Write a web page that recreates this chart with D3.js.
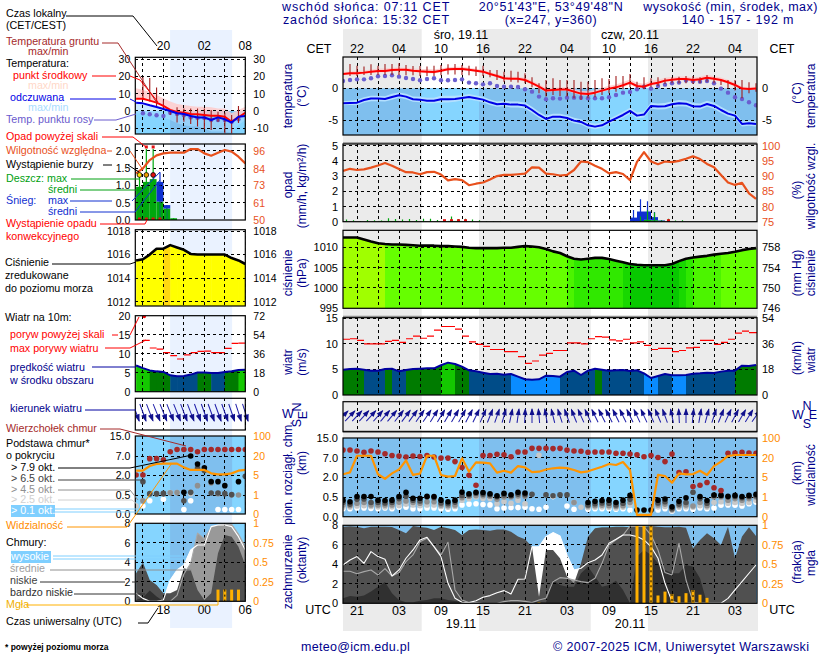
<!DOCTYPE html>
<html>
<head>
<meta charset="utf-8">
<script src="https://d3js.org/d3.v7.min.js"></script>
<style>
  html, body { margin: 0; background: #fff; }
  svg { display: block; }
  text { font-family: "Liberation Sans", Arial, sans-serif; font-size: 10.7px; }
</style>
</head>
<body>
<svg id="chart" width="820" height="660"></svg>
<script>
// ---- long (main) meteogram, one value per hour from 19 UTC
var temp = [2.24,2.34,2.34,2.45,2.6,2.7,2.7,2.86,2.9,2.9,2.75,2.65,2.6,2.55,2.75,2.97,3.02,3.02,2.9,2.75,2.6,2.24,1.93,1.56,1.5,1.5,1.3,.8,.26,-.36,
  -.26,-.2,-.2,-.52,-.83,-.88,-.68,-.36,-.05,.15,.47,.88,.36,.26,.68,.88,1.2,1.35,1.45,1.45,1.3,1.4,1.66,1.5,1.3,.94,.52,-.05,-.1,-.05];
var tempBand = [.3,.3,.35,.35,.35,.4,.4,.35,.35,.3,.35,.35,.4,.4,.35,.3,.35,.35,.3,.3,.3,.3,.3,.3,.3,.3,.35,.4,.4,.4,
  .35,.35,.4,.4,.4,.4,.4,.45,.45,.45,.5,.5,.5,.45,.5,.45,.45,.4,.4,.4,.4,.4,.45,.4,.4,.4,.35,.3,.3,.3];
var feels = [-2.34,-2.29,-2.24,-1.82,-1.61,-1.61,-1.67,-1.35,-1.09,-1.3,-1.72,-1.77,-1.93,-1.93,-1.72,-1.72,-1.67,-1.51,-1.35,-1.56,-1.77,-2.19,-2.5,-2.4,-2.55,-2.55,-2.7,-3.39,-4.17,-4.79,
  -4.43,-4.43,-4.64,-5.05,-5.26,-5.78,-5.99,-5.78,-5.21,-4.69,-4.17,-3.54,-4.27,-4.11,-2.76,-2.86,-2.81,-2.5,-2.34,-2.4,-2.81,-2.86,-2.45,-2.76,-3.39,-3.96,-4.27,-5.57,-5.47,-5.57];
var feelsBand = [.3,.3,.4,.4,.4,.4,.4,.45,.4,.4,.4,.4,.4,.4,.5,.5,.45,.4,.4,.4,.4,.4,.4,.4,.45,.45,.45,.45,.45,.45,
  .4,.4,.4,.4,.4,.4,.4,.4,.4,.4,.45,.45,.45,.45,.45,.45,.45,.45,.45,.45,.45,.45,.45,.45,.45,.45,.45,.4,.4,.4];
var dew = [1.15,1.3,1.4,1.4,1.56,1.88,1.93,2.03,1.82,1.61,1.46,1.25,1.46,1.56,1.25,1.25,1.3,1.4,.89,.78,.62,.78,.36,.26,.26,.2,-.16,-.52,-1.3,-1.72,
  -1.56,-1.61,-1.46,-1.46,-1.46,-1.56,-1.56,-1.56,-1.41,-1.04,-.68,-.57,-.16,.26,-.05,.36,.57,.78,.89,1.2,1.09,1.04,1.15,.78,-.05,-.68,-1.41,-1.67,-2.19,-2.66];
var groundMax = [null,3.8,3.54,3.39,3.75,3.54,3.8,3.8,3.9,3.65,3.49,3.49,3.39,3.54,3.65,3.75,3.8,3.65,3.54,3.39,3.54,2.86,2.86,2.6,2.76,2.6,2.34,1.72,.78,1.3,
  1.56,1.3,1.3,1.3,1.04,1.04,1.3,1.56,1.46,1.93,1.93,2.24,1.04,1.72,1.56,1.72,1.56,1.72,1.82,1.93,1.93,1.72,2.08,1.72,1.3,1.3,1.3,1.3,.94,.78];
var groundMin = [null,1.93,1.93,2.08,2.08,2.08,2.08,2.08,2.08,2.03,2.03,1.93,1.93,1.93,2.03,2.14,2.14,2.08,2.03,1.93,1.93,1.72,1.3,1.04,1.04,.89,.78,.16,-.78,-1.3,
  -1.04,-1.2,-1.3,-1.56,-1.82,-1.56,-1.41,-1.04,-.78,-.52,-.16,.16,0,-.16,.16,.36,.68,.78,.78,.78,.68,.78,1.04,.78,.52,0,-.36,-1.56,-.78,-.52];
var humidity = [91.7,92.4,92,92.2,92.8,93.5,94.3,93.4,92.3,91.3,91.2,90.6,91.3,91.4,90.5,88.6,89,88.7,87,87.5,87.9,88.9,90,90.4,90.4,90.6,90.8,92.9,92.8,90.8,
  90.6,90.2,90.4,92,94.8,94.6,93.4,92.4,90.9,91.3,90.7,88.7,94.7,97.9,94.8,93.9,94.8,94.6,95,95.7,96.5,95.6,94,92.9,90.4,87.9,87.1,87.8,84.3,82.5];
var rainMean = [.01,.01,.01,.01,.02,.05,.05,.05,.03,.01,.01,.02,.01,.01,.02,.05,.05,.03,.01,0,0,0,0,0,0,0,0,0,0,0,
  0,0,0,0,0,0,0,0,0,0,0,.01,.03,.12,.1,.06,.01,0,0,0,0,0,0,0,0,0,0,0,0,0];
var rainMax = [.15,.1,.05,.12,.1,.08,.22,.18,.15,.18,.12,.2,.2,.12,.12,.35,.18,.2,.15,.1,.05,.03,.04,0,0,.03,0,0,0,0,
  0,0,0,0,0,0,0,0,0,0,0,.05,.35,.75,.6,.1,.2,.08,.1,0,0,0,0,0,0,0,0,0,0,0];
var snowMean = [0,0,0,0,0,0,0,0,0,0,0,0,0,0,0,0,0,0,0,0,0,0,0,0,0,0,0,0,0,0,
  0,0,0,0,0,0,0,0,0,0,0,.26,.64,.55,.2,.03,0,0,0,0,0,0,0,0,0,0,0,0,0,0];
var snowMax = [0,0,0,0,0,0,0,0,0,0,0,0,0,0,0,0,0,0,0,0,0,0,0,0,0,0,0,0,0,0,
  0,0,0,0,0,0,0,0,0,0,0,.77,1.47,1.34,.64,.08,0,0,0,0,0,0,0,0,0,0,0,0,0,0];
var convective = [14,15,16,17,46];
var pressure = [1012.4,1012.4,1012.4,1011.9,1011.4,1011,1010.8,1010.7,1010.7,1010.6,1010.5,1010.4,1010.4,1010.4,1010.3,1010.3,1010.2,1010.1,1009.9,1009.8,1009.8,1009.8,1009.8,1009.9,1009.9,1010.1,1010.3,1010.2,1010,1009.6,
  1009,1008.6,1007.8,1007.2,1007,1007.2,1007.4,1007.4,1007.1,1006.7,1006.3,1005.9,1005.7,1005.6,1005.6,1005.6,1005.6,1005.9,1006.6,1007.2,1007.5,1007.7,1007.9,1008.2,1008.4,1008.6,1008.9,1009.3,1009.6,1009.8];
var windSpeed = [4.96,5.09,5.15,4.96,4.76,4.76,5.09,5.15,4.63,4.89,5.09,5.15,5.22,5.22,5.81,6.33,6.07,5.54,4.83,4.63,4.37,4.11,4.17,3.98,4.11,3.59,3.07,3,3.07,3.78,
  3.72,3.59,4.5,4.76,3.91,4.76,5.15,4.96,4.76,4.83,4.89,4.7,4.83,4.24,3.33,3.72,4.11,3.85,3.85,3.91,4.17,4.24,4.37,4.31,4.57,4.76,4.76,5.74,5.67,5.87];
var windBand = [2,2,2,1,1,1,2,1,1,2,2,2,2,2,3,3,2,2,1,1,1,1,1,1,0,0,0,0,0,0,
  0,1,1,1,1,1,2,1,1,1,1,1,1,0,0,1,1,0,0,1,1,1,1,1,1,1,2,2,2,2];
var windGust = [10.9,11,10.7,10,10,10,10.5,10.7,10.3,11,11.5,11.1,11.5,12.7,13.4,13.4,12.9,11.5,10.4,9.9,9.5,8.9,8.9,8.5,8.5,7.5,6.2,6.65,7.8,8.15,
  8.7,8.7,10.2,10.2,10,11,11.4,11.3,10.8,10.6,10.9,10.2,10.4,9.7,8.9,9.1,9.1,8.5,8.7,9.2,9.3,10.7,10.7,9.9,10.3,10.9,12.1,12.5,12.2,12.2];
var windDir = [45,44,43,42,42,41,40,40,38,37,36,35,34,32,31,30,30,29,28,26,24,22,19,16,12,8,3,0,-5,-10,
  -14,-18,-20,-22,-24,-25,-26,-27,-27,-26,-26,-26,-25,-25,-24,-23,-20,-12,-3,0,6,10,15,18,22,25,28,30,32,35];
var cloudTop = [10.1,10.1,9.7,9.2,9.7,9.3,8.6,7.9,7.7,7.3,7.7,7.5,7.9,7.3,6.9,6.9,6,4.5,2.5,1.4,7.9,7.9,8.4,8.2,7.4,9.3,9.3,10.8,10.8,10.8,
  10.7,10.8,10.1,9.7,9.6,9.2,9.3,9.3,9.3,8.8,8.8,8.5,8.2,7.4,7.9,7.1,6,8.5,3.2,3.4,1.3,1.4,1.6,1.2,1,8.8,8.9,9.2,8.9,8.8];
var baseBlack = [.42,.38,.54,.54,.53,.42,.41,.42,.54,.85,.47,.47,.56,.54,.42,.38,.42,.87,.75,.86,.84,.75,.6,.78,.67,.86,.8,null,null,null,
  null,null,null,null,null,.36,.39,.41,.42,.36,.42,.62,.17,.17,.17,.42,.45,.25,.39,.48,null,.54,.41,.65,.64,.55,.62,.54,.62,.7];
var baseDark = [.36,.32,.44,.45,.36,.36,.35,.36,.46,.56,.42,.4,.5,.48,.35,.33,.37,.62,.66,.78,.72,.66,.52,.66,.6,.72,.68,.7,null,.66,
  .6,.66,.66,null,null,.3,.33,.35,.34,.3,.34,.44,null,null,null,.35,.38,.2,.32,.36,.86,.46,.34,.62,.58,.5,.54,.48,.54,.6];
var baseMid = [.3,.28,.34,.36,.3,.3,.3,.3,.37,.4,.36,.34,.38,.38,.3,.28,.3,.48,.56,.62,.6,.56,.44,.5,.5,.58,.56,null,null,null,
  null,null,null,.36,null,.27,.28,.29,.28,.26,.28,.36,null,null,null,.3,.32,.18,.28,.3,.27,.36,.28,.5,.5,.42,.46,.42,.46,.5];
var baseLight = [.24,.24,.27,.28,.26,.25,.25,.25,.28,.32,.3,.28,.3,.3,.26,.24,.26,.42,.46,.5,.46,.46,.33,.38,.34,.42,.33,null,8,null,
  null,null,null,.36,.24,.23,.24,.25,.24,.22,.24,.3,null,null,null,.25,.26,.16,.24,.25,.24,.28,.24,.36,.38,.34,.36,.34,.36,.42];
var baseWhite = [.2,.2,.22,.22,.21,.2,.22,.2,.24,.24,.2,.2,.22,.22,.2,.19,.2,.3,.32,.33,.31,.3,.2,.22,.23,.23,.24,.2,.19,.24,
  .53,null,.27,.19,null,.19,.2,.2,.2,.19,.2,.17,null,null,null,.17,.2,.14,.2,.2,.19,.22,.2,.22,.29,.3,.29,.27,.33,.37];
var visibility = [7.3,8.8,28,28,28,7.3,4.7,8,11,18,6.8,7.8,28,28,6.8,5.5,6,19.5,9.3,16.4,16.2,15.7,8.6,10,8.6,13.6,12.6,9,9.3,11,
  11.9,12.4,12,10.6,8.8,9.6,11.4,13.1,15.2,14.4,16.7,10.6,.09,.09,.09,6.8,6,3.9,8,7.3,7.5,10,6.8,13.6,17,27,31,31,31,31];
var cloudHigh = [3.93,4.44,4.79,4.1,5.3,4.79,4.51,2.8,3.42,4.62,5.47,6.5,6.77,5.81,4.79,2.05,.51,.1,.07,.27,.62,.79,1.09,1.3,.96,2.46,2.5,5.8,5.8,6.84,
  7.25,6.9,4.96,3.42,3.59,4.17,4.44,4.96,6.15,6.56,7,7,6.84,6.5,5.81,4.62,2.05,.17,0,0,0,0,0,0,0,.51,1.37,2.22,3.08,3.93];
var cloudMid = [3.28,3.28,3.04,3.25,3.42,2.91,3.56,2.8,3.15,4.27,4.96,6.32,6.67,5.81,4.96,6.26,1.37,.34,.07,.07,0,0,0,.17,.27,.27,.2,.07,.34,.51,
  2.22,2.63,2.56,2.39,2.22,2.12,2.56,4.1,5.98,6.5,7,7.93,7.93,7.86,7,5.47,3.15,2.91,6.15,2.39,.14,0,0,0,0,0,0,0,0,0];
var cloudLow = [7.86,7.9,7.86,7.69,7.86,7.86,7.86,7.83,7.52,7.18,7.93,7.83,7.76,7.52,7.86,7.69,7.52,7,7.52,7.56,7.52,7.45,7.56,7.56,7.35,6.84,6.56,5.81,.68,5.47,
  5.47,4.62,2.74,2.05,4.1,6.84,7.69,7.8,7.8,7.86,7.86,7.8,7.86,7.86,7.93,7.86,7.8,7.8,7.86,7.76,5.64,6.5,7.18,6.67,5.98,7.86,4.62,6.84,7.8,6.9];
var cloudVeryLow = [.51,.75,.68,.79,1.2,1.71,2.19,1.03,.34,.1,.1,.27,.34,.51,.51,.34,.24,.17,.1,.1,.1,.07,.07,.07,.07,.07,.07,.07,.1,.07,
  2.39,1.88,1.71,1.71,3.08,3.76,2.74,1.71,1.88,2.32,1.37,0,4.79,5.47,4.96,4.1,3.42,3.08,3.08,3.93,3.76,2.56,0,0,0,0,0,0,0,0];
var fog = [0,0,0,0,0,0,0,0,0,0,0,0,0,0,0,0,0,0,0,0,0,0,0,0,0,0,0,0,.01,0,
  0,0,0,0,0,0,0,0,0,0,0,0,1,1,1,.1,.15,.12,.09,.13,.17,.11,.07,0,0,0,0,0,0,0];
var fogDotted = [44,47,50];
var daySpans = [[11.24,19.43],[35.39,43.57]];

// ---- short (left) meteogram, one value per hour from 14 UTC
var tempL = [7.1,7.1,5.96,4.8,2.9,.6,-.6,-1,-1.7,-1.9,-2.3,-2.7,-2.7,-3.3,-6.2,-3.7,-1];
var tempHiL = [13.1,12.1,11.2,9.2,7.3,5.4,4,3.5,2.9,2.5,2.5,2.1,1.5,1.5,-1.3,.6,2.5];
var feelsL = [4.8,4.4,3.3,2.3,1.15,0,-1.3,-1.7,-2.9,-3.8,-3.8,-5.2,-3.7,-4.8,-6.7,-3.3,-2.9];
var feelsLoL = [-1.3,-1.7,-2.3,-3.3,-3.7,-5.2,-7.1,-8.1,-9,-9,-10,-11.9,-11.9,-11.9,-12.5,-8.1,-5.2];
var dewL = [null,-1.3,-1.9,-2.5,-2.9,-1,-1.7,-2.5,-3.7,-4,-4,-5.2,-5.2,-5.2,-6.2,-4.8,null];
var groundMaxL = [null,19.4,19,13.5,6.2,.6,2.1,1.5,1.5,1.5,1.5,.6,-.4,-1,-2.3,2.9,null];
var groundMinL = [null,6.3,5.4,2.9,1.3,-2.3,-6.7,-6.2,-7.5,-9,-10.6,-11,-6.2,-12.8,-12.8,-7,null];
var humidityL = [81,84.3,89.8,92.9,94.2,94.7,94.7,94.7,97.1,97.1,94.2,92.7,94.7,96.5,95.4,92,87.6];
var rainMeanL = [.96,1.1,1.18,.53,.33,.05,0,0,0,0,0,0,0,0,0,0,0];
var rainMaxL = [1.34,2.05,2.05,.53,.33,.05,0,0,0,0,0,0,0,0,0,0,0];
var snowMeanL = [0,0,0,.57,.1,0,0,0,0,0,0,0,0,0,0,0,0];
var snowMaxL = [0,0,0,1.38,.43,0,0,0,0,0,0,0,0,0,0,0,0];
var overScaleL = [1,2];
var stormL = [0,1,2];
var stormColors = ["#ffe000","#f0a000","#e01010"];
var convectiveL = [0,1,2,3];
var pressureL = [1015.5,1015.6,1016,1016.5,1016.5,1016.8,1016.6,1016.4,1016.05,1016,1016,1016,1016,1016,1015.7,1015.5,1015.2];
var windSpeedL = [6.9,6.2,5.6,5.35,5.2,4.3,4.05,4.14,4.5,5.05,5.05,4.95,4.95,5.2,5.4,5.7,5.8];
var windBandL = [3,3,2,2,2,1,1,1,1,2,2,1,1,2,2,3,3];
var windGustL = [null,13.5,11.5,11.2,10.3,9.5,8.6,9.7,10.3,10.6,10.7,10.3,10.3,11.4,12.7,12.8,12.8];
var windDirL = [160,160,159,158,158,158,158,159,159,160,160,160,160,160,161,162,162];
var cloudTopL = [2,2,6.3,6.3,6,8.7,9.6,9.6,9.6,8.7,9.6,9.6,9.6,9.6,9.6,9.6,9.6];
var baseBlackL = [null,null,null,null,null,null,null,.7,7,4.9,3.9,1.5,1.5,1.2,null,1.5,null];
var baseDarkL = [null,1.5,.6,.6,.62,null,null,.35,.7,3.8,3.2,.65,.65,.6,.53,null,1.9];
var baseMidL = [null,.35,.58,.58,.6,.66,.68,null,null,1.2,null,1.4,.6,null,.5,.5,null];
var baseLightL = [.21,.35,null,null,null,.68,.68,null,.6,null,null,null,null,null,null,null,null];
var baseWhiteL = [null,.21,.35,null,.39,null,null,.12,.35,null,null,null,.12,.12,.12,.12,null];
var visibilityL = [8.4,8.4,12.1,13.7,14,14,14,11,9,9,9,6.3,5.5,5.5,6.3,8.4,9];
var cloudHighL = [.82,.3,0,0,.14,2.19,3.21,3.73,5.26,5.78,5.78,7.66,7.83,7.83,7.66,6.63,5.26];
var cloudMidL = [0,0,0,0,0,0,.6,2.8,3.9,7,6.4,7.6,7.8,7.9,7.9,6.9,5.6];
var cloudLowL = [2.87,3.97,2.19,1.68,.82,.82,1.16,3.38,3.21,1.16,.14,.82,4.92,6.8,6.63,5.6,3.73];
var cloudVeryLowL = [.14,.4,1.1,.48,0,0,0,0,0,0,0,0,0,0,0,0,0];
var fogL = [0,0,0,0,0,0,0,0,0,0,0,0,.15,.15,.15,.15,0];
var fogDottedL = [13];
var nightL = [4.98,14.07];

// ---- tick labels
var cetLabels = ["22","04","10","16","22","04","10","16","22","04"];
var utcLabels = ["21","03","09","15","21","03","09","15","21","03"];
var localLabelsL = ["20","02","08"];
var utcLabelsL = ["18","00","06"];
var baseTicks = [0,.5,2,7,15];
var baseTickText = ["0.0","0.5","2.0","7.0","15.0"];
var visTicks = [0,1,5,20,100];
var rainTicksL = [0,.5,1,1.5,2];
var rhTicksL = [50,61,73,84,96];
var windTicks = [0,5,10,15];
var kmhTicks = [0,18,36,54];
var windTicksL = [0,5,10,15,20];
var kmhTicksL = [0,18,36,54,72];

var NAVY = "#00008c", ORANGE = "#ff8c00", RH = "#e8501c", GREY_BG = "#ebebeb";
var BLUE_DARK = "#7fbfee", BLUE_LIGHT = "#85d5ff";
var WIND_COLORS = ["#0a8cff","#004c88","#007b00","#14c800"];

var svg = d3.select("#chart");
var hours = d3.range(60), hoursL = d3.range(17);
var X = d3.scaleLinear([0,59],[343,756]);
var XL = d3.scaleLinear([0,16],[136.1,245.3]);
var M = {x0:343, x1:757, xs:X, n:hours};
var L = {x0:135.3, x1:245.3, xs:XL, n:hoursL};
var gridH = d3.range(2,59,3), gridHL = d3.range(1,17,3);

var clipId = 0;
function layer(p, y0, y1) {
  var id = "c" + (clipId++);
  svg.append("clipPath").attr("id",id).append("rect").attr("x",p.x0).attr("y",y0).attr("width",p.x1-p.x0).attr("height",y1-y0);
  return svg.append("g").attr("clip-path","url(#"+id+")");
}
function frame(p, y0, y1) {
  svg.append("rect").attr("x",p.x0).attr("y",y0).attr("width",p.x1-p.x0).attr("height",y1-y0)
    .attr("fill","none").attr("stroke","#000").attr("stroke-width",1.2);
}
function grid(g, p, ys, y0, y1) {
  var hx = p === M ? gridH : gridHL;
  hx.forEach(function(h) {
    g.append("line").attr("x1",p.xs(h)).attr("x2",p.xs(h)).attr("y1",y0).attr("y2",y1)
      .attr("stroke","#000").attr("stroke-dasharray","3 3").attr("shape-rendering","crispEdges");
  });
  ys.forEach(function(y) {
    g.append("line").attr("x1",p.x0).attr("x2",p.x1).attr("y1",y).attr("y2",y)
      .attr("stroke","#000").attr("stroke-dasharray","3 3").attr("shape-rendering","crispEdges");
  });
}
function axis(p, side, scale, ticks, color, fmt) {
  var a = (side === "left" ? d3.axisLeft(scale) : d3.axisRight(scale)).tickValues(ticks).tickSize(0).tickPadding(side === "left" ? 5 : (p === M ? 5 : 8));
  a.tickFormat(function(d,i){ return fmt ? fmt[i] : String(d); });
  var g = svg.append("g").attr("transform","translate("+(side === "left" ? p.x0 : p.x1)+",0)").call(a);
  g.select(".domain").remove();
  g.selectAll("text").attr("fill",color).style("font-size", p === M ? "11px" : "10.5px");
  g.attr("font-family",null).attr("font-size",null);
}
function lineOf(p, y, vals) {
  return d3.line().defined(function(i){ return vals[i] != null; }).x(function(i){ return p.xs(i); }).y(function(i){ return y(vals[i]); })(p.n);
}
function areaOf(p, y, hi, lo) {
  return d3.area().x(function(i){ return p.xs(i); }).y0(function(i){ return y(lo ? lo[i] : 0); }).y1(function(i){ return y(hi[i]); })(p.n);
}
function stroke(g, d, color, w) {
  return g.append("path").attr("d",d).attr("fill","none").attr("stroke",color).attr("stroke-width",w).attr("stroke-linejoin","round");
}
function fillPath(g, d, color, op) {
  return g.append("path").attr("d",d).attr("fill",color).attr("fill-opacity",op == null ? 1 : op);
}
function dots(g, p, y, vals, color, r) {
  vals.forEach(function(v,i) {
    if (v == null) return;
    g.append("circle").attr("cx",p.xs(i)).attr("cy",y(v)).attr("r",r).attr("fill",color);
  });
}
function blueRect(g, p, y0, y1) {
  if (p === M) {
    g.append("rect").attr("x",p.x0).attr("y",y0).attr("width",p.x1-p.x0).attr("height",y1-y0).attr("fill",BLUE_DARK);
    daySpans.forEach(function(s) {
      g.append("rect").attr("x",X(s[0])).attr("y",y0).attr("width",X(s[1])-X(s[0])).attr("height",y1-y0).attr("fill",BLUE_LIGHT);
    });
  } else {
    g.append("rect").attr("x",p.x0).attr("y",y0).attr("width",p.x1-p.x0).attr("height",y1-y0).attr("fill",BLUE_LIGHT);
    g.append("rect").attr("x",XL(nightL[0])).attr("y",y0).attr("width",XL(nightL[1])-XL(nightL[0])).attr("height",y1-y0).attr("fill",BLUE_DARK);
  }
}

// ---- backgrounds
svg.append("rect").attr("x",343).attr("y",29).attr("width",415).attr("height",602).attr("fill",GREY_BG);
daySpans.forEach(function(s) {
  svg.append("rect").attr("x",X(s[0])).attr("y",29).attr("width",X(s[1])-X(s[0])).attr("height",602).attr("fill","#fff");
});
svg.append("rect").attr("x",XL(nightL[0])).attr("y",30).attr("width",XL(nightL[1])-XL(nightL[0])).attr("height",598).attr("fill","#eaf2ff");
[[143,1.5],[316.5,1.5],[431.5,2]].forEach(function(b) {
  svg.append("rect").attr("x",343).attr("y",b[0]-b[1]/2).attr("width",414).attr("height",b[1]).attr("fill","#777").attr("opacity",.8);
});

// ---- temperature
function tempPanel(p, y, y0, y1, d) {
  var g = layer(p, y0, y1);
  blueRect(g, p, y(0), y1);
  fillPath(g, areaOf(p, y, d.hi, d.lo), "#ffc8c8", .8);
  fillPath(g, areaOf(p, y, d.fHi, d.fLo), d.fColor, d.fOp);
  grid(g, p, d.levels.map(y), y0, y1);
  dots(g, p, y, d.dew, "#6a5fd0", 2.2);
  p.n.forEach(function(i) {
    if (d.gMax[i] == null) return;
    g.append("line").attr("x1",p.xs(i)).attr("x2",p.xs(i)).attr("y1",y(d.gMax[i])).attr("y2",y(d.gMin[i]))
      .attr("stroke","#a01c1c").attr("stroke-width",1.1);
  });
  stroke(g, lineOf(p, y, d.t), "#ff0000", 2);
  stroke(g, lineOf(p, y, d.f), "#0000e6", 2);
  frame(p, y0, y1);
}
var yTemp = d3.scaleLinear([5,-5],[56.3,120.3]);
tempPanel(M, yTemp, 57, 135, {
  t:temp, f:feels, dew:dew, gMax:groundMax, gMin:groundMin,
  hi:temp.map(function(v,i){ return v+tempBand[i]; }), lo:temp.map(function(v,i){ return v-tempBand[i]*.6; }),
  fHi:feels.map(function(v,i){ return v+feelsBand[i]*1.1; }), fLo:feels.map(function(v,i){ return v-feelsBand[i]; }),
  fColor:"#b4e0ff", fOp:1, levels:[0,-5]
});
axis(M, "left", yTemp, [-5,0], "#000");
axis(M, "right", yTemp, [-5,0], "#000");

var yTempL = d3.scaleLinear([30,-10],[59,128.3]);
tempPanel(L, yTempL, 57.3, 134, {
  t:tempL, f:feelsL, dew:dewL, gMax:groundMaxL, gMin:groundMinL,
  hi:tempHiL, lo:tempL, fHi:feelsL, fLo:feelsLoL, fColor:"#a6dcff", fOp:.6, levels:[30,20,10,0,-10]
});
axis(L, "left", yTempL, [30,20,10,0,-10], "#000");
axis(L, "right", yTempL, [30,20,10,0,-10], "#000");

// ---- precipitation and humidity
function precipPanel(p, y, yh, y0, y1, d) {
  var g = layer(p, y0, y1);
  var w = p.xs(1) - p.xs(0);
  p.n.forEach(function(i) {
    var x = p.xs(i);
    if (d.rain[i] > 0) g.append("rect").attr("x",x).attr("y",y(d.rain[i])).attr("width",w).attr("height",y(0)-y(d.rain[i])).attr("fill","#00a80e");
    if (d.snow[i] > 0) g.append("rect").attr("x",x).attr("y",y(d.rain[i]+d.snow[i])).attr("width",w).attr("height",y(0)-y(d.snow[i])).attr("fill","#1030d0");
  });
  grid(g, p, d.levels.map(y), y0, y1);
  p.n.forEach(function(i) {
    var x = p.xs(i) + w/2;
    if (d.snowMax[i] > 0) g.append("line").attr("x1",x).attr("x2",x).attr("y1",y(0)).attr("y2",y(d.snowMax[i])).attr("stroke","#1030d0").attr("stroke-width",1.2);
    if (d.rainMax[i] > 0) g.append("line").attr("x1",x).attr("x2",x).attr("y1",y(0)).attr("y2",y(d.rainMax[i])).attr("stroke","#00a80e").attr("stroke-width",1.2);
  });
  d.conv.forEach(function(i) {
    g.append("rect").attr("x",p.xs(i)+w/2-1.5).attr("y",y(0)-2.5).attr("width",3).attr("height",3).attr("fill","#e01010");
  });
  stroke(g, lineOf(p, yh, d.rh), RH, 2.2);
  return g;
}
var yRain = d3.scaleLinear([0,5],[221.7,145.7]);
var yRh = d3.scaleLinear([75,100],[221.7,145.7]);
precipPanel(M, yRain, yRh, 144, 221.7, {rain:rainMean, snow:snowMean, rainMax:rainMax, snowMax:snowMax, conv:convective, rh:humidity, levels:[1,2,3,4,5]});
frame(M, 144, 221.7);
axis(M, "left", yRain, [0,1,2,3,4,5], "#000");
axis(M, "right", yRh, [75,80,85,90,95,100], RH);

var yRainL = d3.scaleLinear([0,2],[220,150.7]);
var yRhL = d3.scaleLinear([50,96],[220,150.7]);
var gp = precipPanel(L, yRainL, yRhL, 144, 220, {rain:rainMeanL, snow:snowMeanL, rainMax:rainMaxL, snowMax:snowMaxL, conv:convectiveL, rh:humidityL, levels:rainTicksL});
var wL = XL(1) - XL(0);
overScaleL.forEach(function(i) {
  gp.append("rect").attr("x",XL(i)+wL/2-1.5).attr("y",145.5).attr("width",3).attr("height",3).attr("fill","#e01010");
});
stormL.forEach(function(i,k) {
  gp.append("circle").attr("cx",XL(i)+wL/2).attr("cy",yRainL(1.3)).attr("r",2.4).attr("fill",stormColors[k]).attr("stroke","#000").attr("stroke-width",.8);
});
frame(L, 144, 220);
axis(L, "left", yRainL, rainTicksL, "#000", ["0.0","0.5","1.0","1.5","2.0"]);
axis(L, "right", yRhL, rhTicksL, RH);

// ---- pressure
function pressColor(v) {
  return v >= 1010.9 ? "#a0ff00" : v >= 1008.3 ? "#66ff00" : v >= 1007.5 ? "#4cf400" : v >= 1006.7 ? "#30e800" : v >= 1006 ? "#18d800" : "#08c800";
}
var yPress = d3.scaleLinear([995,1010],[308.3,247.3]);
var yHg = d3.scaleLinear([746,758],[308.3,247.3]);
var gPress = layer(M, 230.3, 308.3);
hours.slice(0,-1).forEach(function(i) {
  gPress.append("path").attr("fill",pressColor(pressure[i]))
    .attr("d","M"+X(i)+","+yPress(995)+"V"+yPress(pressure[i])+"L"+(X(i+1)+.5)+","+yPress(pressure[i+1])+"V"+yPress(995)+"Z");
});
grid(gPress, M, [1000,1005,1010].map(yPress), 230.3, 308.3);
stroke(gPress, lineOf(M, yPress, pressure), "#000", 2.6);
frame(M, 230.3, 308.3);
axis(M, "left", yPress, [995,1000,1005,1010], "#000");
axis(M, "right", yHg, [746,750,754,758], "#000");

var yPressL = d3.scaleLinear([1012,1018],[301.7,231]);
var gPressL = layer(L, 229.7, 306);
hoursL.slice(0,-1).forEach(function(i) {
  gPressL.append("path").attr("fill",pressureL[i+1] >= 1016.75 ? "#ffd810" : "#ffff00")
    .attr("d","M"+XL(i)+",306V"+yPressL(pressureL[i])+"L"+(XL(i+1)+.5)+","+yPressL(pressureL[i+1])+"V306Z");
});
grid(gPressL, L, [1012,1014,1016,1018].map(yPressL), 229.7, 306);
stroke(gPressL, lineOf(L, yPressL, pressureL), "#000", 2.6);
frame(L, 229.7, 306);
axis(L, "left", yPressL, [1012,1014,1016,1018], "#000");
axis(L, "right", yPressL, [1012,1014,1016,1018], "#000");

// ---- wind speed and gusts
function windPanel(p, y, y0, y1, d) {
  var g = layer(p, y0, y1);
  var n = p.n.slice(0,-1);
  n.forEach(function(i) {
    g.append("path").attr("fill",WIND_COLORS[d.band[i]])
      .attr("d","M"+p.xs(i)+","+y(0)+"V"+y(d.v[i])+"L"+(p.xs(i+1)+.5)+","+y(d.v[i+1])+"V"+y(0)+"Z");
  });
  grid(g, p, d.levels.map(y), y0, y1);
  stroke(g, lineOf(p, y, d.v), "#0000a0", 2);
  var w = p.xs(1) - p.xs(0);
  p.n.forEach(function(i) {
    if (d.gust[i] == null) return;
    g.append("line").attr("x1",p.xs(i)).attr("x2",p.xs(i)+w).attr("y1",y(d.gust[i])).attr("y2",y(d.gust[i])).attr("stroke","#ff0000").attr("stroke-width",1.2);
  });
  return g;
}
var yWind = d3.scaleLinear([0,15],[395,318.3]);
windPanel(M, yWind, 317.7, 395, {v:windSpeed, band:windBand, gust:windGust, levels:[5,10,15]});
frame(M, 317.7, 395);
axis(M, "left", yWind, windTicks, "#000");
axis(M, "right", d3.scaleLinear([0,54],[395,318.3]), kmhTicks, "#000");

var yWindL = d3.scaleLinear([0,20],[391.7,315.7]);
var gw = windPanel(L, yWindL, 315.7, 391.7, {v:windSpeedL, band:windBandL, gust:windGustL, levels:[5,10,15]});
gw.append("circle").attr("cx",XL(1)+wL/5).attr("cy",316.5).attr("r",1.7).attr("fill","#ff0000");
frame(L, 315.7, 391.7);
axis(L, "left", yWindL, windTicksL, "#000");
axis(L, "right", d3.scaleLinear([0,72],[391.7,315.7]), kmhTicksL, "#000");

// ---- wind direction
function arrow(g, x, y, angle, len, head) {
  var a = g.append("g").attr("transform","translate("+x+","+y+") rotate("+angle+")");
  a.append("line").attr("y1",-len/2).attr("y2",len/2).attr("stroke","#1c1ca8").attr("stroke-width",1);
  a.append("path").attr("d","M0,"+(-len/2-1)+"L"+(-head/2)+","+(-len/2+head*1.2)+"L"+(head/2)+","+(-len/2+head*1.2)+"Z").attr("fill","#10108c");
}
var gDir = layer(M, 401.7, 431.7);
grid(gDir, M, [], 401.7, 431.7);
hours.forEach(function(i){ arrow(gDir, X(i), 416, windDir[i], 14, 5); });
frame(M, 401.7, 431.7);
var gDirL = layer({x0:135.3,x1:252}, 398.3, 430);
grid(gDirL, L, [], 398.3, 430);
hoursL.forEach(function(i){ arrow(gDirL, XL(i), 412.5, windDirL[i], 18, 5.5); });
frame(L, 398.3, 430);

// ---- cloud base, cloud top, visibility
function basePanel(p, y, yv, y0, y1, d) {
  var g = layer(p, y0, y1);
  blueRect(g, p, y0, y1);
  grid(g, p, baseTicks.slice(1,4).map(y), y0, y1);
  dots(g, p, y, d.white, "#fff", 2.8);
  dots(g, p, y, d.light, "#c8c8c8", 2.8);
  dots(g, p, y, d.mid, "#909090", 2.8);
  dots(g, p, y, d.dark, "#505050", 2.8);
  dots(g, p, y, d.black, "#000", 2.8);
  dots(g, p, y, d.top, "#a52a2a", 2.8);
  stroke(g, lineOf(p, yv, d.vis), "#ff9400", 2.2);
  frame(p, y0, y1);
}
var yBase = d3.scaleLinear(baseTicks,[516.7,497,477.3,457.7,438]);
var yVis = d3.scaleLinear(visTicks,[516.7,497,477.3,457.7,438]);
basePanel(M, yBase, yVis, 438, 516.7, {white:baseWhite, light:baseLight, mid:baseMid, dark:baseDark, black:baseBlack, top:cloudTop, vis:visibility});
axis(M, "left", yBase, baseTicks, "#000", baseTickText);
axis(M, "right", yVis, visTicks, ORANGE);

var yBaseL = d3.scaleLinear(baseTicks,[514,495,475,456,436]);
var yVisL = d3.scaleLinear(visTicks,[514,495,475,456,436]);
basePanel(L, yBaseL, yVisL, 436, 514, {white:baseWhiteL, light:baseLightL, mid:baseMidL, dark:baseDarkL, black:baseBlackL, top:cloudTopL, vis:visibilityL});
axis(L, "left", yBaseL, baseTicks, "#000", baseTickText);
axis(L, "right", yVisL, visTicks, ORANGE);

// ---- cloud cover and fog
function cloudPanel(p, y, yf, y0, y1, d) {
  var g = layer(p, y0, y1);
  blueRect(g, p, y0, y1);
  fillPath(g, areaOf(p, y, d.high), "#fff");
  fillPath(g, areaOf(p, y, d.mid), "#999");
  fillPath(g, areaOf(p, y, d.low), "#505050");
  fillPath(g, areaOf(p, y, d.vlow), "#303030");
  grid(g, p, [2,4,6].map(y), y0, y1);
  stroke(g, lineOf(p, y, d.mid), "#a8a8a8", 1.1);
  stroke(g, lineOf(p, y, d.high), "#fff", 1.1);
  p.n.forEach(function(i) {
    if (!d.fog[i]) return;
    g.append("rect").attr("x",p.xs(i)-1.5).attr("y",yf(d.fog[i])).attr("width",3).attr("height",yf(0)-yf(d.fog[i])).attr("fill","#ffb000");
    if (d.dotted.indexOf(i) >= 0)
      g.append("line").attr("x1",p.xs(i)).attr("x2",p.xs(i)).attr("y1",yf(d.fog[i])).attr("y2",yf(0)).attr("stroke","#000").attr("stroke-dasharray","2 3");
  });
  frame(p, y0, y1);
}
var yCloud = d3.scaleLinear([0,8],[603.3,525.3]);
var yFog = d3.scaleLinear([0,1],[603.3,525.3]);
cloudPanel(M, yCloud, yFog, 525.3, 603.3, {high:cloudHigh, mid:cloudMid, low:cloudLow, vlow:cloudVeryLow, fog:fog, dotted:fogDotted});
axis(M, "left", yCloud, [0,2,4,6,8], "#000");
axis(M, "right", yFog, [0,.25,.5,.75,1], ORANGE, ["0","0.25","0.5","0.75","1"]);

var yCloudL = d3.scaleLinear([0,8],[601.3,523.3]);
var yFogL = d3.scaleLinear([0,1],[601.3,523.3]);
cloudPanel(L, yCloudL, yFogL, 523.3, 601.3, {high:cloudHighL, mid:cloudMidL, low:cloudLowL, vlow:cloudVeryLowL, fog:fogL, dotted:fogDottedL});
axis(L, "left", yCloudL, [0,2,4,6,8], "#000");
axis(L, "right", yFogL, [0,.25,.5,.75,1], ORANGE, ["0","0.25","0.5","0.75","1"]);

// ---- text
function text(x, y, s, color, anchor, size, spacing) {
  return svg.append("text").attr("x",x).attr("y",y).attr("fill",color || "#000").attr("text-anchor",anchor || "start")
    .attr("dominant-baseline","middle").style("font-size",size || null).style("letter-spacing",spacing || null).text(s);
}
function vtext(x, y, s, color) {
  return svg.append("text").attr("transform","translate("+x+","+y+") rotate(-90)").attr("fill",color || NAVY)
    .attr("text-anchor","middle").attr("dominant-baseline","middle").style("font-size","12px").text(s);
}
cetLabels.forEach(function(s,k){ text(X(2+6*k), 50, s, "#000", "middle", "12.5px"); });
utcLabels.forEach(function(s,k){ text(X(2+6*k), 612, s, "#000", "middle", "12.5px"); });
localLabelsL.forEach(function(s,k){ text(XL(4+6*k), 47, s, "#000", "middle", "12px"); });
utcLabelsL.forEach(function(s,k){ text(XL(4+6*k), 611, s, "#000", "middle", "12px"); });
text(319, 50, "CET", "#000", "middle", "12.5px");
text(782, 50, "CET", "#000", "middle", "12.5px");
text(318, 611, "UTC", "#000", "middle", "12.5px");
text(782, 611, "UTC", "#000", "middle", "12.5px");
text(461, 36, "śro, 19.11", "#000", "middle", "12.5px");
text(630, 36, "czw, 20.11", "#000", "middle", "12.5px");
text(461, 625, "19.11", "#000", "middle", "12.5px");
text(630, 625, "20.11", "#000", "middle", "12.5px");

text(282, 8, "wschód słońca: 07:11 CET", NAVY, "start", "12.5px", ".85px");
text(283, 21, "zachód słońca: 15:32 CET", NAVY, "start", "12.5px", ".85px");
text(551, 8, "20°51'43\"E, 53°49'48\"N", NAVY, "middle", "12.5px", ".6px");
text(551, 21, "(x=247,  y=360)", NAVY, "middle", "12.5px", ".6px");
text(818, 8, "wysokość (min, środek, max)", NAVY, "end", "12.5px", ".5px");
text(738, 21, "140 - 157 - 192 m", NAVY, "middle", "12.5px", ".8px");
text(301, 648, "meteo@icm.edu.pl", NAVY, "start", "12.5px", ".3px");
text(553, 648, "© 2007-2025 ICM, Uniwersytet Warszawski", NAVY, "start", "12.5px", ".4px");

[[289,96,"temperatura"],[303,96,"(°C)"],[289,185,"opad"],[303,186,"(mm/h, kg/m²/h)"],[289,273,"ciśnienie"],[303,273,"(hPa)"],
 [289,362,"wiatr"],[303,362,"(m/s)"],[289,473,"pion. rozciągł. chm."],[303,463,"(km)"],[289,572,"zachmurzenie"],[303,560,"(oktanty)"],
 [812,96,"temperatura"],[798,93,"(°C)"],[812,186,"wilgotność wzgl."],[798,190,"(%)"],[812,273,"ciśnienie"],[798,273,"(mm Hg)"],
 [812,360,"wiatr"],[798,358,"(km/h)"],[812,475,"widzialność"],[798,473,"(km)"],[812,563,"mgła"],[798,562,"(frakcja)"]
].forEach(function(t){ vtext(t[0],t[1],t[2]); });

// compass roses
function rot(x, y, s) {
  svg.append("text").attr("transform","translate("+x+","+y+") rotate(-90)").attr("fill",NAVY).attr("text-anchor","middle")
    .attr("dominant-baseline","middle").style("font-size","12.5px").text(s);
}
text(288, 415, "W", NAVY, "middle", "12.5px");
rot(298, 407, "N"); rot(304, 415, "E"); rot(298, 423, "S");
text(798, 416, "W", NAVY, "middle", "12.5px");
text(807, 407, "N", NAVY, "middle", "12.5px");
text(813, 416, "E", NAVY, "middle", "12.5px");
text(807, 425, "S", NAVY, "middle", "12.5px");

// legend of the short meteogram
var RED = "#ff0000", BROWN = "#a52a2a", LBLUE = "#a8dcff";
svg.append("rect").attr("x",11).attr("y",505).attr("width",44).attr("height",12).attr("fill","#7fcfff");
svg.append("rect").attr("x",11).attr("y",551).attr("width",40).attr("height",12).attr("fill","#7fcfff");
[[6,14,"Czas lokalny","#000"],[6,26,"(CET/CEST)","#000"],[6,42,"Temperatura gruntu",BROWN],[28,52,"max/min",BROWN],
 [6,64,"Temperatura:","#000"],[13,76,"punkt środkowy",RED],[28,86,"max/min","#ffd8c8"],[10,98,"odczuwana","#0000e6"],
 [28,108,"max/min",LBLUE],[6,120,"Temp. punktu rosy","#6a5acd"],[6,137,"Opad powyżej skali",RED],[6,151,"Wilgotność względna",RH],
 [6,165,"Wystąpienie burzy","#000"],[6,179,"Deszcz: max","#00a010"],[48,190,"średni","#00a010"],[6,201,"Śnieg:","#1030d0"],
 [48,201,"max","#1030d0"],[48,212,"średni","#1030d0"],[6,224,"Wystąpienie opadu",RED],[6,237,"konwekcyjnego",RED],
 [5,263,"Ciśnienie","#000"],[5,276,"zredukowane","#000"],[5,289,"do poziomu morza","#000"],[5,318,"Wiatr na 10m:","#000"],
 [10,335,"poryw powyżej skali",RED],[10,349,"max porywy wiatru",RED],[10,368,"prędkość wiatru",NAVY],[10,381,"w środku obszaru",NAVY],
 [10,409,"kierunek wiatru",NAVY],[6,429,"Wierzchołek chmur",BROWN],[6,444,"Podstawa chmur*","#000"],[6,456,"o pokryciu","#000"],
 [11,468,"> 7.9 okt.","#000"],[11,479,"> 6.5 okt.","#404040"],[11,490,"> 4.5 okt.","#909090"],[11,500,"> 2.5 okt.","#d0d0d0"],
 [11,511,"> 0.1 okt.","#fff"],[6,526,"Widzialność",ORANGE],[6,543,"Chmury:","#000"],[11,557,"wysokie","#fff"],[10,569,"średnie","#a0a0a0"],
 [10,581,"niskie","#404040"],[10,593,"bardzo niskie","#303030"],[6,605,"Mgła","#f0b000"],[6,622,"Czas uniwersalny (UTC)","#000"]
].forEach(function(t){ text(t[0],t[1],t[2],t[3]); });
text(5, 648, "* powyżej poziomu morza", "#000", "start", "8.5px").style("font-weight","bold");

var leaders = [
  [[[66,16],[133,16],[157,46]],"#000"],
  [[[102,43],[118,43],[157,103]],BROWN],
  [[[92,76],[116,76]],RED],[[[130,76],[140,80],[158,102]],RED],
  [[[70,99],[116,99]],"#0000e6"],[[[130,99],[136,102]],"#0000e6"],
  [[[94,120],[116,120],[136,114]],"#6a5acd"],
  [[[102,137],[133,137],[146,147]],RED],
  [[[107,151],[112,151]],RH],[[[130,151],[143,170]],RH],
  [[[103,165],[112,165]],"#000"],[[[128,165],[139,172]],"#000"],
  [[[71,179],[139,179]],"#00a010"],[[[80,190],[139,190]],"#00a010"],
  [[[70,201],[112,201]],"#1030d0"],[[[132,201],[160,172]],"#1030d0"],
  [[[80,212],[135,212],[160,180]],"#1030d0"],
  [[[100,224],[145,224],[147,220]],RED],
  [[[52,264],[130,264],[136,262]],"#000"],
  [[[112,335],[118,335]],RED],[[[130,335],[139,317]],RED],
  [[[105,348],[130,348],[146,340]],RED],
  [[[92,367],[136,367]],"#0000a0"],[[[85,410],[136,410]],"#0000a0"],
  [[[100,429],[120,429],[186,446]],BROWN],
  [[[58,468],[130,468],[192,455]],"#000"],
  [[[58,480],[144,480]],"#404040"],
  [[[58,490],[130,490],[138,500]],"#909090"],
  [[[58,500],[132,500],[138,505]],"#d0d0d0"],
  [[[55,509],[137,509]],"#7fcfff"],[[[55,512],[137,512]],"#7fcfff"],
  [[[67,527],[127,527],[172,463]],"#ff9400"],
  [[[53,556],[186,556]],"#7fcfff"],[[[53,559],[186,559]],"#7fcfff"],
  [[[50,570],[192,570]],"#909090"],
  [[[40,582],[125,582]],"#303030"],[[[132,582],[137,582]],"#303030"],
  [[[74,594],[145,594]],"#303030"],
  [[[26,605],[218,605],[218,590]],"#ffb000"],
  [[[138,623],[148,623],[158,608]],"#000"]
];
var leaderLine = d3.line();
leaders.forEach(function(l) {
  svg.append("path").attr("d",leaderLine(l[0])).attr("fill","none").attr("stroke",l[1]).attr("stroke-width",1);
});
</script>
</body>
</html>
